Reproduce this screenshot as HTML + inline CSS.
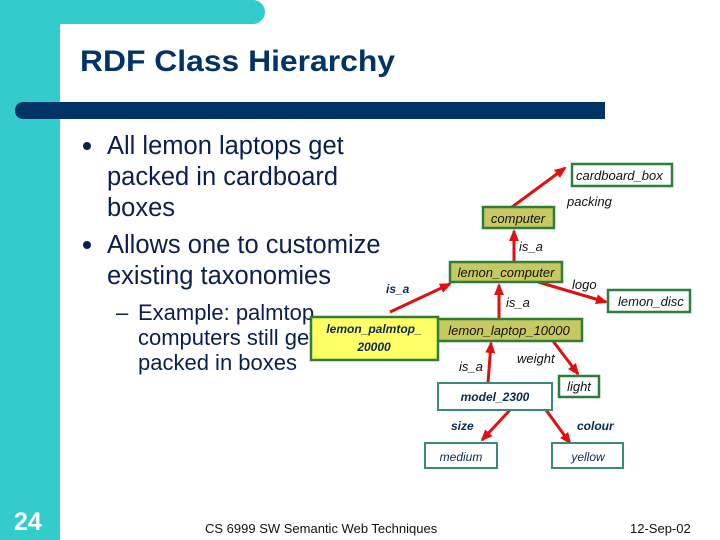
<!DOCTYPE html>
<html><head><meta charset="utf-8"><style>
html,body{margin:0;padding:0;background:#fff}
svg{display:block}
</style></head><body>
<svg width="720" height="540" xmlns="http://www.w3.org/2000/svg" font-family="Liberation Sans, sans-serif">
<defs><marker id="a" markerWidth="12" markerHeight="12" refX="10" refY="6" orient="auto" markerUnits="userSpaceOnUse"><path d="M0,1 L12,6 L0,11 z" fill="#e01010"/></marker></defs>
<rect width="720" height="540" fill="#fff"/>
<rect x="0" y="0" width="60" height="540" fill="#33cccc"/>
<rect x="0" y="0" width="265" height="24" rx="12" fill="#33cccc"/>
<rect x="0" y="0" width="250" height="24" fill="#33cccc"/>
<rect x="15" y="102" width="590" height="17" rx="8" fill="#003366"/>
<rect x="60" y="102" width="545" height="17" fill="#003366"/>
<text x="80" y="71" font-size="30" font-weight="bold" fill="#003366" textLength="315" lengthAdjust="spacingAndGlyphs">RDF Class Hierarchy</text>
<g fill="#0b1f4f" font-size="25.5">
<circle cx="87" cy="146" r="4"/><circle cx="87" cy="245" r="4"/>
<text x="107" y="154">All lemon laptops get</text>
<text x="107" y="185">packed in cardboard</text>
<text x="107" y="216">boxes</text>
<text x="107" y="253">Allows one to customize</text>
<text x="107" y="284">existing taxonomies</text>
<g font-size="22"><text x="116" y="320">–</text>
<text x="138" y="320">Example: palmtop</text>
<text x="138" y="345">computers still get</text>
<text x="138" y="370">packed in boxes</text></g>
</g>
<g stroke="#e01010" stroke-width="3" fill="none">
<line x1="512" y1="207" x2="565" y2="168" marker-end="url(#a)"/>
<line x1="514" y1="262" x2="514" y2="231" marker-end="url(#a)"/>
<line x1="390" y1="312" x2="450" y2="284" marker-end="url(#a)"/>
<line x1="499" y1="319" x2="499" y2="285" marker-end="url(#a)"/>
<line x1="538" y1="282" x2="606" y2="302" marker-end="url(#a)"/>
<line x1="488" y1="383" x2="491" y2="343" marker-end="url(#a)"/>
<line x1="553" y1="341" x2="578" y2="374" marker-end="url(#a)"/>
<line x1="510" y1="410" x2="482" y2="440" marker-end="url(#a)"/>
<line x1="546" y1="410" x2="570" y2="443" marker-end="url(#a)"/>
</g>
<g stroke="#2e7d3a" stroke-width="2.5">
<rect x="572" y="164" width="100" height="22" fill="#fff"/>
<rect x="483" y="207" width="71" height="21" fill="#c8c860"/>
<rect x="450" y="262" width="112" height="20" fill="#c8c860"/>
<rect x="608" y="290" width="82" height="22" fill="#fff"/>
<rect x="437" y="319" width="145" height="22" fill="#c8c860"/>
<rect x="559" y="376" width="40" height="21" fill="#fff"/>
</g>
<g stroke="#3a8a7a" stroke-width="2">
<rect x="438" y="383" width="114" height="27" fill="#fff"/>
<rect x="425" y="443" width="72" height="25" fill="#fff"/>
<rect x="552" y="443" width="71" height="25" fill="#fff"/>
</g>
<rect x="311" y="317" width="127" height="43" fill="#ffff66" stroke="#2e7d3a" stroke-width="2.5"/>
<g font-size="13" font-style="italic" fill="#111">
<text x="576" y="180">cardboard_box</text>
<text x="567" y="206">packing</text>
<text x="518" y="223" text-anchor="middle">computer</text>
<text x="519" y="251">is_a</text>
<text x="506" y="277" text-anchor="middle">lemon_computer</text>
<text x="572" y="289">logo</text>
<text x="618" y="306">lemon_disc</text>
<text x="506" y="307">is_a</text>
<text x="509" y="335" text-anchor="middle">lemon_laptop_10000</text>
<text x="517" y="363">weight</text>
<text x="459" y="371">is_a</text>
<text x="579" y="391" text-anchor="middle">light</text>
</g>
<g font-size="12" font-style="italic" font-weight="bold" fill="#0b2a4f">
<text x="386" y="293">is_a</text>
<text x="374" y="333" text-anchor="middle">lemon_palmtop_</text>
<text x="374" y="351" text-anchor="middle">20000</text>
<text x="495" y="401" text-anchor="middle">model_2300</text>
<text x="451" y="430">size</text>
<text x="577" y="430">colour</text>
<text x="461" y="461" text-anchor="middle" font-weight="normal">medium</text>
<text x="588" y="461" text-anchor="middle" font-weight="normal">yellow</text>
</g>
<text x="14" y="530" font-size="25" font-weight="bold" fill="#fff">24</text>
<text x="205" y="533" font-size="13" fill="#111">CS 6999 SW   Semantic Web Techniques</text>
<text x="630" y="533" font-size="13" fill="#111">12-Sep-02</text>
</svg>
</body></html>
